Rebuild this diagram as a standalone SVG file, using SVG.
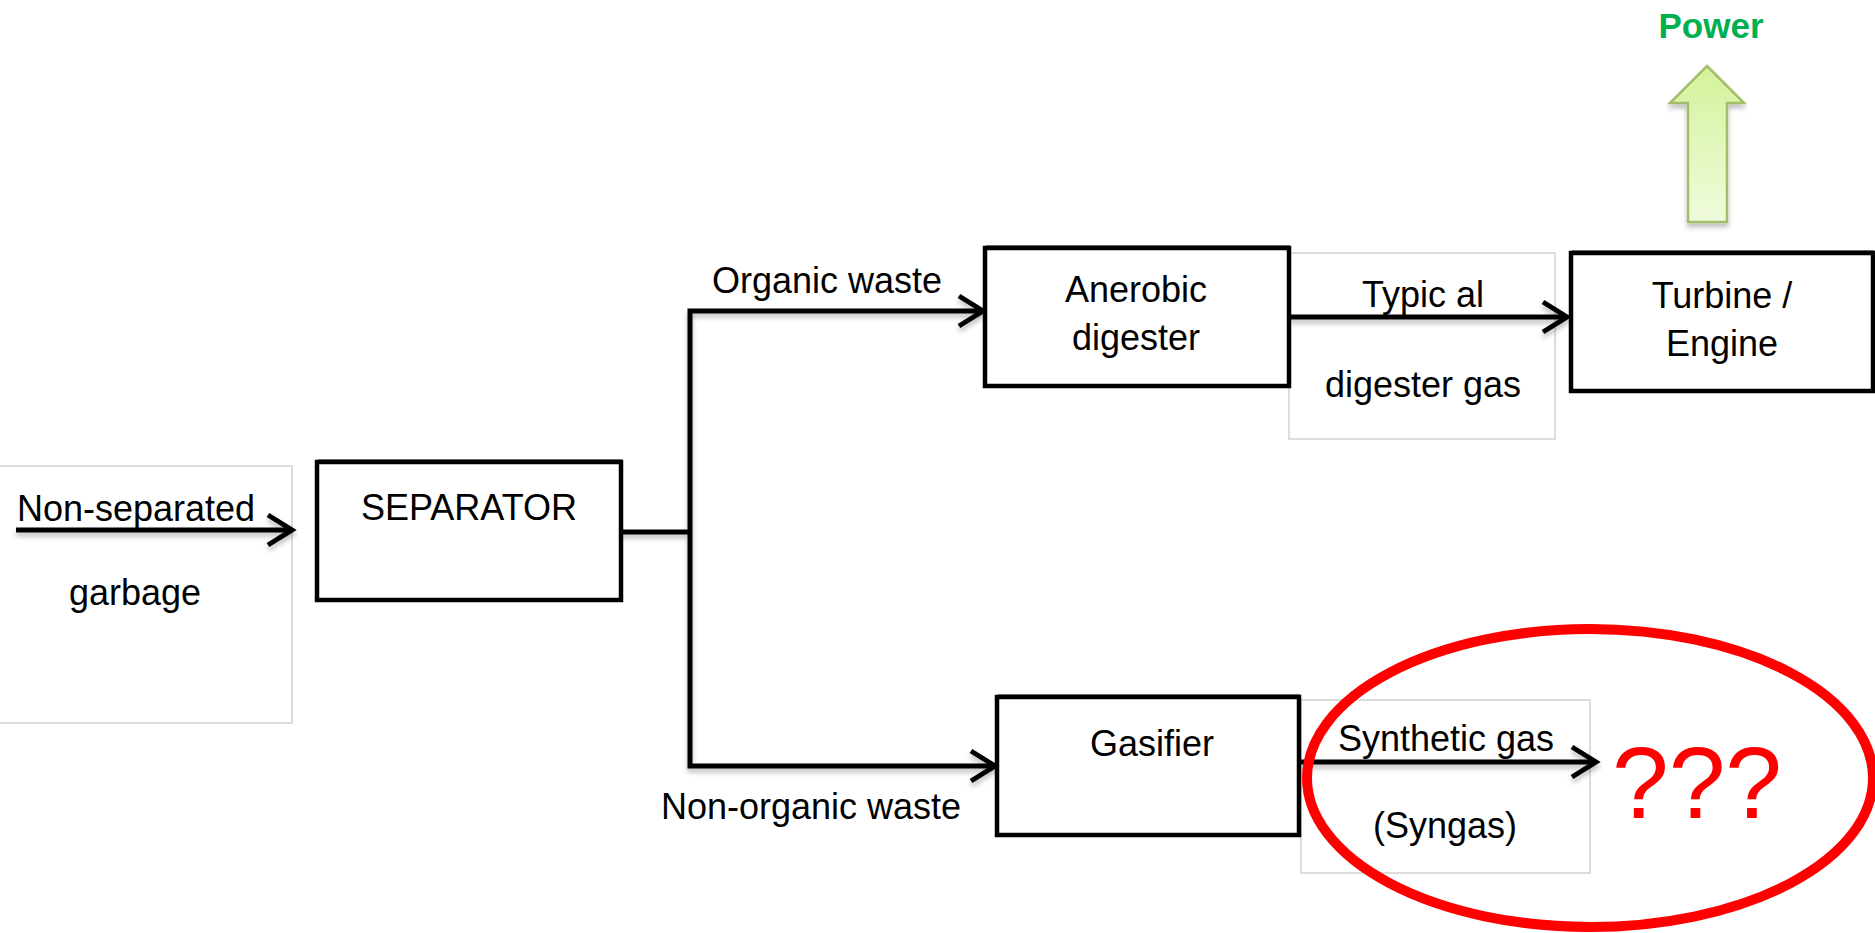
<svg xmlns="http://www.w3.org/2000/svg" width="1875" height="933" viewBox="0 0 1875 933">
  <style>
    .lbl { font-family: "Liberation Sans", Arial, sans-serif; font-size: 36px; fill: #000; text-anchor: middle; }
    .box { fill: #fff; stroke: #000; stroke-width: 4.5; }
    .boxedge { fill: none; stroke: #8a8a8a; stroke-width: 2; }
    .frame { fill: #fff; stroke: #dcdcdc; stroke-width: 2; }
    .wire { fill: none; stroke: #000; stroke-width: 5; }
  </style>
  <defs>
    <marker id="chev" markerUnits="userSpaceOnUse" markerWidth="40" markerHeight="40" viewBox="-30 -20 34 40" refX="0" refY="0" orient="auto">
      <path d="M-24,-15 L0,0 L-24,15" fill="none" stroke="#000" stroke-width="5" stroke-linejoin="miter"/>
    </marker>
    <filter id="soft" x="-5%" y="-20%" width="110%" height="160%">
      <feDropShadow dx="0" dy="4" stdDeviation="2.5" flood-color="#000" flood-opacity="0.25"/>
    </filter>
    <linearGradient id="powerFill" x1="0" y1="0" x2="0" y2="1">
      <stop offset="0" stop-color="#d3f39b"/>
      <stop offset="1" stop-color="#f0fbdc"/>
    </linearGradient>
  </defs>

  <rect width="1875" height="933" fill="#fff"/>

  <!-- label frames behind the flow arrows -->
  <rect class="frame" x="-2" y="466" width="294" height="257"/>
  <rect class="frame" x="1289" y="253" width="266" height="186"/>
  <rect class="frame" x="1301" y="700" width="289" height="173"/>

  <!-- connectors -->
  <g id="connectors" filter="url(#soft)">
    <path class="wire" d="M16,530 H292" marker-end="url(#chev)"/>
    <path class="wire" d="M621,532 H690"/>
    <path class="wire" d="M690,532 V311 H983" marker-end="url(#chev)"/>
    <path class="wire" d="M690,532 V766 H995" marker-end="url(#chev)"/>
    <path class="wire" d="M1289,317 H1567" marker-end="url(#chev)"/>
    <path class="wire" d="M1301,762 H1596" marker-end="url(#chev)"/>
  </g>

  <!-- input label -->
  <g id="input">
    <text class="lbl" x="136" y="521">Non-separated</text>
    <text class="lbl" x="135" y="605">garbage</text>
  </g>

  <g id="separator">
    <rect class="boxedge" x="319" y="460" width="302" height="138"/>
    <rect class="box" x="317" y="462" width="304" height="138"/>
    <text class="lbl" x="469" y="520">SEPARATOR</text>
  </g>

  <g id="branch-labels">
    <text class="lbl" x="827" y="293">Organic waste</text>
    <text class="lbl" x="811" y="819">Non-organic waste</text>
  </g>

  <g id="digester">
    <rect class="boxedge" x="987" y="246" width="302" height="138"/>
    <rect class="box" x="985" y="248" width="304" height="138"/>
    <text class="lbl" x="1136" y="302">Anerobic</text>
    <text class="lbl" x="1136" y="350">digester</text>
  </g>

  <g id="digester-gas">
    <text class="lbl" x="1423" y="307">Typic al</text>
    <text class="lbl" x="1423" y="397">digester gas</text>
  </g>

  <g id="turbine">
    <rect class="boxedge" x="1573" y="251" width="300" height="138"/>
    <rect class="box" x="1571" y="253" width="302" height="138"/>
    <text class="lbl" x="1722" y="308">Turbine /</text>
    <text class="lbl" x="1722" y="356">Engine</text>
  </g>

  <g id="power">
    <path d="M1707,66 L1744,103 L1727,103 L1727,222 L1688,222 L1688,103 L1670,103 Z" fill="url(#powerFill)" stroke="#a3bd6b" stroke-width="2.5" stroke-linejoin="miter" filter="url(#soft)"/>
    <text x="1711" y="38" font-family="'Liberation Sans', Arial, sans-serif" font-size="35" font-weight="bold" fill="#00b050" text-anchor="middle">Power</text>
  </g>

  <g id="gasifier">
    <rect class="boxedge" x="999" y="695" width="300" height="138"/>
    <rect class="box" x="997" y="697" width="302" height="138"/>
    <text class="lbl" x="1152" y="756">Gasifier</text>
  </g>

  <g id="syngas">
    <text class="lbl" x="1446" y="751">Synthetic gas</text>
    <text class="lbl" x="1445" y="838">(Syngas)</text>
  </g>

  <g id="unknown">
    <ellipse cx="1590" cy="778" rx="283" ry="149" fill="none" stroke="#ff0000" stroke-width="10"/>
    <text x="1697" y="818" font-family="'Liberation Sans', Arial, sans-serif" font-size="102" fill="#ff0000" text-anchor="middle">???</text>
  </g>
</svg>
